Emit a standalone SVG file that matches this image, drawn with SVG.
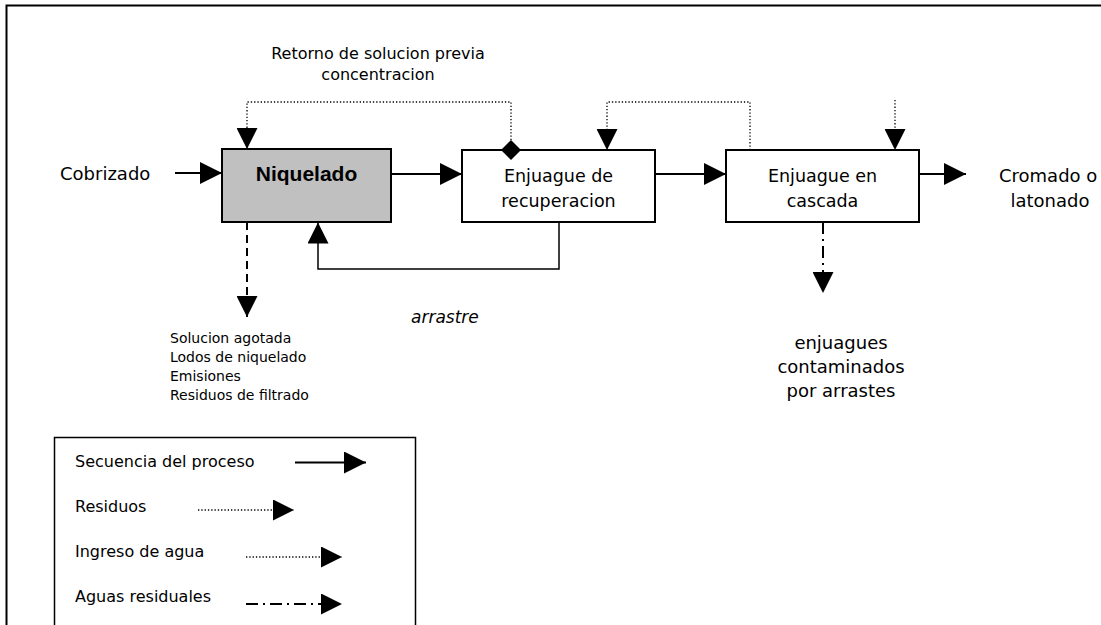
<svg xmlns="http://www.w3.org/2000/svg" width="1101" height="625" viewBox="0 0 1101 625">
  <style>
    .t { font-family: "DejaVu Sans", Verdana, sans-serif; fill: #000; }
    .box { fill: #fff; stroke: #000; stroke-width: 2; }
    .solid { fill: none; stroke: #000; stroke-width: 2; }
    .thin { fill: none; stroke: #000; stroke-width: 1.5; }
    .dotted { fill: none; stroke: #000; stroke-width: 1.3; stroke-dasharray: 1.3 2; }
    .dashed { fill: none; stroke: #000; stroke-width: 2; stroke-dasharray: 8 5; }
    .dashdot { fill: none; stroke: #000; stroke-width: 2; stroke-dasharray: 12 5 2 5; }
  </style>
  <defs>
    <marker id="head" viewBox="0 0 22 22" refX="22" refY="11" markerWidth="22" markerHeight="22" markerUnits="userSpaceOnUse" orient="auto">
      <path d="M0,0 L22,11 L0,22 Z" fill="#000"/>
    </marker>
    <marker id="headS" viewBox="0 0 21 21" refX="21" refY="10.5" markerWidth="21" markerHeight="21" markerUnits="userSpaceOnUse" orient="auto">
      <path d="M0,0 L21,10.5 L0,21 Z" fill="#000"/>
    </marker>
  </defs>

  <rect width="1101" height="625" fill="#fff"/>
  <!-- outer frame (continues past right and bottom edges) -->
  <path d="M6.5,640 L6.5,5.5 L1110,5.5" fill="none" stroke="#000" stroke-width="2"/>

  <text class="t" x="378" y="59" font-size="16" text-anchor="middle">Retorno de solucion previa</text>
  <text class="t" x="378" y="80" font-size="16" text-anchor="middle">concentracion</text>

  <text class="t" x="60" y="180" font-size="18">Cobrizado</text>

  <g id="niquelado">
    <rect x="222" y="149" width="169" height="73" fill="#c0c0c0" stroke="#000" stroke-width="2"/>
    <text x="306.5" y="181" font-family="'Liberation Sans', Arial, sans-serif" font-weight="bold" font-size="21" text-anchor="middle">Niquelado</text>
  </g>

  <g id="recuperacion">
    <rect class="box" x="462" y="150" width="193" height="72"/>
    <text class="t" x="558.5" y="181.5" font-size="17.5" text-anchor="middle">Enjuague de</text>
    <text class="t" x="558.5" y="206.5" font-size="17.5" text-anchor="middle">recuperacion</text>
  </g>

  <g id="cascada">
    <rect class="box" x="726" y="150" width="193" height="72"/>
    <text class="t" x="822.5" y="181.5" font-size="17.5" text-anchor="middle">Enjuague en</text>
    <text class="t" x="822.5" y="206.5" font-size="17.5" text-anchor="middle">cascada</text>
  </g>

  <text class="t" x="999" y="181.5" font-size="18">Cromado o</text>
  <text class="t" x="1050" y="206.5" font-size="18" text-anchor="middle">latonado</text>

  <text class="t" x="411" y="322.5" font-size="17" font-style="italic">arrastre</text>

  <g id="residuos-niquelado" class="t" font-size="14">
    <text x="170" y="342.5">Solucion agotada</text>
    <text x="170" y="361.5">Lodos de niquelado</text>
    <text x="170" y="381">Emisiones</text>
    <text x="170" y="400">Residuos de filtrado</text>
  </g>

  <g id="enjuagues-contaminados" class="t" font-size="18" text-anchor="middle">
    <text x="841" y="349">enjuagues</text>
    <text x="841" y="373">contaminados</text>
    <text x="841" y="397">por arrastes</text>
  </g>

  <g id="connectors">
    <!-- process sequence -->
    <line class="solid" x1="175" y1="173" x2="222" y2="173" marker-end="url(#head)"/>
    <line class="solid" x1="391" y1="174" x2="462" y2="174" marker-end="url(#head)"/>
    <line class="solid" x1="655" y1="174" x2="726" y2="174" marker-end="url(#head)"/>
    <line class="solid" x1="919" y1="174" x2="966" y2="174" marker-end="url(#head)"/>
    <!-- drag-out return to nickel bath -->
    <polyline class="thin" points="559,222 559,269 318,269 318,222.5" marker-end="url(#headS)"/>
    <!-- concentrate return -->
    <polyline class="dotted" points="511,150 511,102 247,102 247,149" marker-end="url(#headS)"/>
    <path d="M511,140 L521,150 L511,160 L501,150 Z" fill="#000"/>
    <!-- counterflow rinse water -->
    <polyline class="dotted" points="750,150 750,102 607,102 607,150" marker-end="url(#headS)"/>
    <line class="dotted" x1="895" y1="100" x2="895" y2="150" marker-end="url(#headS)"/>
    <!-- wastes -->
    <line class="dashed" x1="247" y1="222" x2="247" y2="317" marker-end="url(#headS)"/>
    <line class="dashdot" x1="823" y1="222" x2="823" y2="293" marker-end="url(#headS)"/>
  </g>

  <g id="legend">
    <path d="M54.5,640 L54.5,437.5 L415.5,437.5 L415.5,640" fill="none" stroke="#000" stroke-width="1.5"/>
    <text class="t" x="75" y="466.5" font-size="16">Secuencia del proceso</text>
    <line class="solid" x1="295" y1="462.5" x2="366" y2="462.5" marker-end="url(#head)"/>
    <text class="t" x="75" y="511.5" font-size="16">Residuos</text>
    <line class="dotted" x1="198" y1="510" x2="294" y2="510" marker-end="url(#headS)"/>
    <text class="t" x="75" y="556.5" font-size="16">Ingreso de agua</text>
    <line class="dotted" x1="246" y1="557" x2="342" y2="557" marker-end="url(#headS)"/>
    <text class="t" x="75" y="601.5" font-size="16">Aguas residuales</text>
    <line class="dashdot" x1="246" y1="604" x2="342" y2="604" marker-end="url(#headS)"/>
  </g>
</svg>
